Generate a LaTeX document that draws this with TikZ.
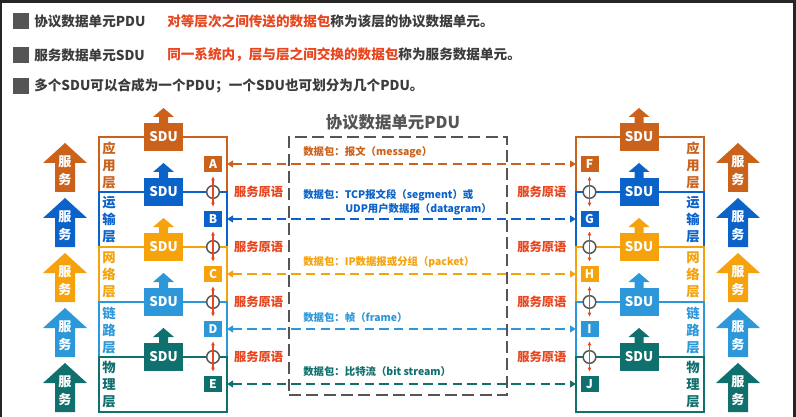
\documentclass[tikz,border=0pt]{standalone}
\usepackage{fontspec}
\setmainfont{Noto Sans CJK SC}
\usetikzlibrary{arrows.meta,positioning}

\definecolor{appc}{HTML}{CB621C}
\definecolor{trac}{HTML}{0B62C8}
\definecolor{netc}{HTML}{F5A20C}
\definecolor{linc}{HTML}{2C98D9}
\definecolor{phyc}{HTML}{10706E}
\definecolor{redc}{HTML}{E8461F}
\definecolor{grayc}{HTML}{555555}
\definecolor{hdrc}{HTML}{3C3C3C}

\begin{document}
\begin{tikzpicture}[x=0.75pt, y=-0.75pt,
    every node/.style={font=\bfseries},
    hdr/.style={text=hdrc, anchor=west, inner sep=0pt, font=\fontsize{10.2}{12}\selectfont\bfseries},
    laybox/.style={draw=#1, line width=1.1pt, minimum width=96pt, minimum height=41.25pt, anchor=north west, inner sep=0pt, outer sep=0pt},
    layname/.style={text=#1, align=center, inner sep=0pt, font=\fontsize{10}{12.75}\selectfont\bfseries},
    srvtext/.style={text=white, align=center, inner sep=0pt, font=\fontsize{9.8}{13.5}\selectfont\bfseries},
    sdubox/.style={fill=#1, text=white, minimum width=29.25pt, minimum height=21pt, inner sep=0pt, font=\fontsize{10}{12}\selectfont\bfseries},
    letbox/.style={fill=#1, text=white, minimum width=13.5pt, minimum height=12pt, inner sep=0pt, font=\fontsize{9}{10}\selectfont\bfseries},
    pdulink/.style={#1, line width=1.6pt, dash pattern=on 7pt off 4pt, {Triangle[length=4.5pt,width=5pt]}-{Triangle[length=4.5pt,width=5pt]}},
    knot/.style={circle, draw=grayc, fill=white, line width=1.1pt, minimum size=9.5pt, inner sep=0pt},
    prim/.style={text=redc, font=\fontsize{9.2}{11}\selectfont\bfseries},
    pkt/.style={text=#1, anchor=west, inner sep=0pt, font=\fontsize{7.8}{9}\selectfont\bfseries}]
    \useasboundingbox (0,0) rectangle (796,417);
    \fill[white] (0,0) rectangle (796,417);
    \fill[black!85] (0,0) rectangle (796,3);
    \fill[black!85] (0,0) rectangle (2,417);
    \fill[black!85] (793,0) rectangle (796,417);

    % Заголовок
    \fill[grayc] (13,13) rectangle (29,29);
    \fill[grayc] (13,47) rectangle (29,63);
    \fill[grayc] (13,78) rectangle (29,94);
    \node[hdr] (h1) at (34,21) {协议数据单元PDU};
    \node[hdr] (h1r) at (167,21) {\textcolor{redc}{对等层次之间传送的数据包}称为该层的协议数据单元。};
    \node[hdr] (h2) at (34,55) {服务数据单元SDU};
    \node[hdr] (h2r) at (167,55) {\textcolor{redc}{同一系统内，层与层之间交换的数据包}称为服务数据单元。};
    \node[hdr] (h3) at (34,86) {多个SDU可以合成为一个PDU；一个SDU也可划分为几个PDU。};

    % PDU
    \node[text=grayc, font=\fontsize{12.3}{14}\selectfont\bfseries] (pdut) at (393,122) {协议数据单元PDU};
    \node[draw=grayc, line width=2.2pt, dash pattern=on 9pt off 4pt, minimum width=163.5pt, minimum height=193.5pt, anchor=north west, outer sep=0pt] (pdu) at (289,137) {};

    % Уровни
    \foreach \y/\c/\nm/\a/\b in {137/appc/应\\用\\层/A/F, 192/trac/运\\输\\层/B/G, 247/netc/网\\络\\层/C/H, 302/linc/链\\路\\层/D/I, 357/phyc/物\\理\\层/E/J}{
        \node[laybox=\c] (lay\a) at (99,\y) {};
        \node[laybox=\c] (lay\b) at (576,\y) {};
        \node[layname=\c] (n\a) at (109,\y+28) {\nm};
        \node[layname=\c] (n\b) at (693,\y+28) {\nm};
        % Услуги
        \fill[\c] (43,\y+26) -- (65,\y+6) -- (87,\y+26) -- (75,\y+26) -- (75,\y+55) -- (55,\y+55) -- (55,\y+26) -- cycle;
        \fill[\c] (716,\y+26) -- (738,\y+6) -- (760,\y+26) -- (748,\y+26) -- (748,\y+55) -- (728,\y+55) -- (728,\y+26) -- cycle;
        \node[srvtext] (s\a) at (65,\y+34) {服\\务};
        \node[srvtext] (s\b) at (738,\y+34) {服\\务};
        % SDU
        \fill[\c] (159,\y-13) -- (159,\y-20) -- (153,\y-20) -- (163.5,\y-29) -- (174,\y-20) -- (168,\y-20) -- (168,\y-13) -- cycle;
        \fill[\c] (634.5,\y-13) -- (634.5,\y-20) -- (628.5,\y-20) -- (639,\y-29) -- (649.5,\y-20) -- (643.5,\y-20) -- (643.5,\y-13) -- cycle;
        \node[sdubox=\c] (sdu\a) at (163.5,\y) {SDU};
        \node[sdubox=\c] (sdu\b) at (639,\y) {SDU};
        % Точки доступа
        \node[letbox=\c] (\a) at (213,\y+27) {\a};
        \node[letbox=\c] (\b) at (589.5,\y+27) {\b};
        \draw[pdulink=\c] (\a -| lay\a.east) -- (\b -| lay\b.west);
    }

    % Примитивы
    \foreach \u/\v/\p/\q in {A/B/F/G, B/C/G/H, C/D/H/I, D/E/I/J}{
        \node[knot] (k\v) at (\v |- lay\v.north) {};
        \node[knot] (k\q) at (\q |- lay\q.north) {};
        \draw[redc, line width=0.9pt, {Latex[length=3pt,width=3pt]}-{Latex[length=3pt,width=3pt]}, shorten <=3pt, shorten >=3pt] (\u) -- (\v);
        \draw[redc, line width=0.9pt, {Latex[length=3pt,width=3pt]}-{Latex[length=3pt,width=3pt]}, shorten <=3pt, shorten >=3pt] (\p) -- (\q);
        \node[prim, right=7pt of k\v] (pr\v) {服务原语};
        \node[prim, left=8.5pt of k\q] (pr\q) {服务原语};
    }

    % Пакеты
    \node[pkt=appc] (pA) at (303,152) {数据包：报文（message）};
    \node[pkt=trac] (pB) at (303,195) {数据包：TCP报文段（segment）或};
    \node[pkt=trac] (pB2) at (345,209) {UDP用户数据报（datagram）};
    \node[pkt=netc] (pC) at (303,262) {数据包：IP数据报或分组（packet）};
    \node[pkt=linc] (pD) at (303,318) {数据包：帧（frame）};
    \node[pkt=phyc] (pE) at (303,372) {数据包：比特流（bit stream）};
\end{tikzpicture}
\end{document}
